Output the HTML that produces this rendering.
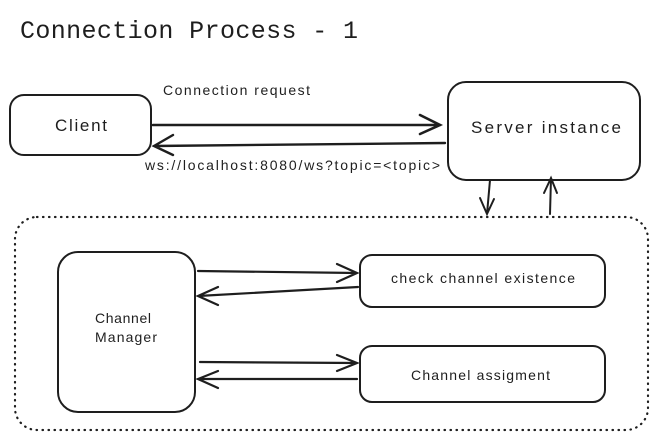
<!DOCTYPE html>
<html><head><style>
body{margin:0;background:#fff;}
svg{display:block;}
text{font-family:"Liberation Sans",sans-serif;fill:#1e1e1e;}
</style></head><body>
<svg width="658" height="440" viewBox="0 0 658 440" xmlns="http://www.w3.org/2000/svg">
<text x="20" y="38" style="font-family:'Liberation Mono',monospace;font-size:25px" textLength="338">Connection Process - 1</text>
<g fill="none" stroke="#1e1e1e" stroke-width="2" stroke-linecap="round">
<rect x="10" y="95" width="141" height="60" rx="14"/>
<rect x="448" y="82" width="192" height="98" rx="18"/>
<rect x="15" y="217" width="633" height="213" rx="22" stroke-dasharray="0.5 5.5" stroke-width="2.2"/>
<rect x="58" y="252" width="137" height="160" rx="20"/>
<rect x="360" y="255" width="245" height="52" rx="12"/>
<rect x="360" y="346" width="245" height="56" rx="12"/>
<path d="M153 125 L440 125 M420 115 L440 125 L420 134" stroke-width="2.6"/>
<path d="M445 143 L154 146 M173 135 L154 146 L173 155" stroke-width="2.4"/>
<path d="M490 180 L487 214 M480 198 L487 214 L494 199"/>
<path d="M550 214 L551 178 M544 193 L551 178 L557 193"/>
<path d="M198 271 L357 273 M337 264 L357 273 L337 282" stroke-width="2.2"/>
<path d="M358 287 L198 296 M218 287 L198 296 L218 305" stroke-width="2.2"/>
<path d="M200 362 L357 363 M337 355 L357 363 L337 371" stroke-width="2.2"/>
<path d="M357 379 L198 379 M218 371 L198 379 L218 388" stroke-width="2.2"/>
</g>
<text x="163" y="95" font-size="14" textLength="147">Connection request</text>
<text x="145" y="170" font-size="14" textLength="295">ws://localhost:8080/ws?topic=&lt;topic&gt;</text>
<text x="55" y="131" font-size="17" textLength="52">Client</text>
<text x="471" y="133" font-size="17" textLength="150">Server instance</text>
<text x="95" y="323" font-size="14" textLength="56">Channel</text>
<text x="95" y="342" font-size="14" textLength="62">Manager</text>
<text x="391" y="283" font-size="14" textLength="184">check channel existence</text>
<text x="411" y="380" font-size="14" textLength="139">Channel assigment</text>
</svg>
</body></html>
